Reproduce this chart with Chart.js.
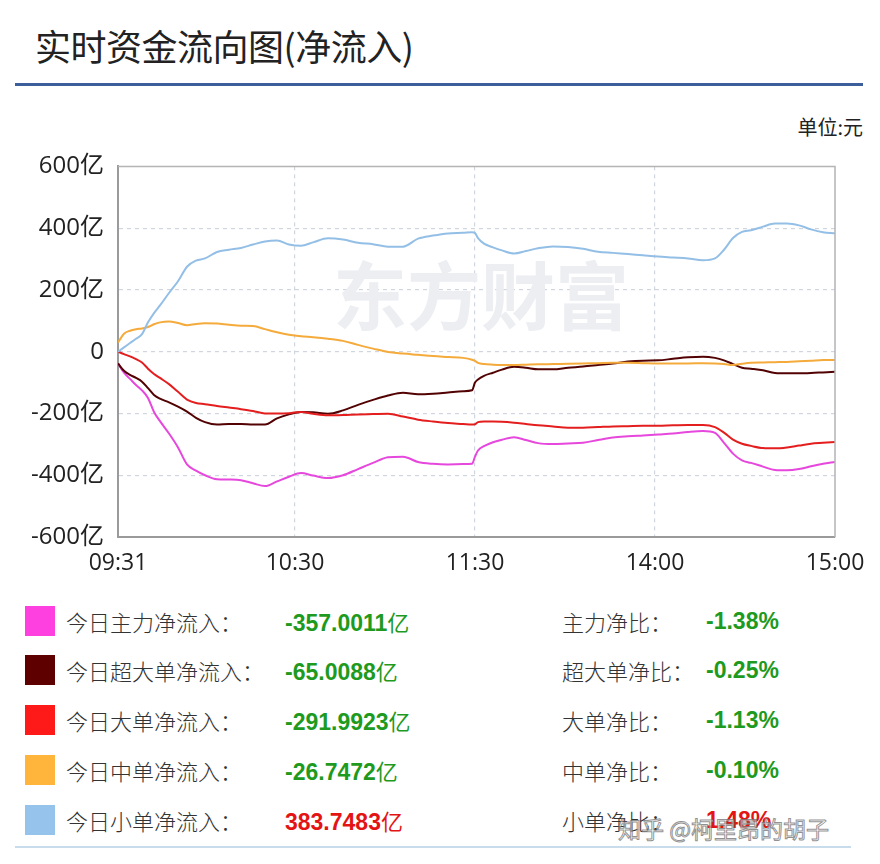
<!DOCTYPE html>
<html>
<head>
<meta charset="utf-8">
<script src="https://cdn.jsdelivr.net/npm/chart.js@4.4.0/dist/chart.umd.min.js"></script>
<style>
  html, body { margin: 0; padding: 0; background: #fff; }
  body { width: 880px; height: 864px; position: relative; overflow: hidden; font-family: "Noto Sans CJK SC", "Noto Sans", sans-serif; }
  #title { position: absolute; left: 35px; top: 19px; font-size: 36px; color: #222; letter-spacing: -0.5px; }
  #rule { position: absolute; left: 15px; top: 83px; width: 848px; height: 3px; background: #3c5f9c; }
  #unit { position: absolute; right: 17px; top: 112px; font-size: 20px; color: #222; }
  #wrap { position: absolute; left: 0; top: 138px; width: 880px; height: 452px; }
  .sw { position: absolute; left: 25px; width: 30px; height: 30px; }
  .lab { position: absolute; font-size: 22px; color: #333; white-space: nowrap; line-height: 30px; font-weight: 300; }
  .val { position: absolute; font-family: "Liberation Sans", Arial, sans-serif; font-weight: bold; font-size: 23px; line-height: 30px; white-space: nowrap; }
  .val .yi { font-family: "Noto Sans CJK SC", sans-serif; font-weight: normal; font-size: 22px; }
  #bottomRule { position: absolute; left: 15px; top: 846px; width: 836px; height: 2px; background: #c9dcec; }
  #zhihu { position: absolute; left: 618px; top: 811px; font-size: 23px; color: rgba(255,255,255,0.55); -webkit-text-stroke: 1px rgba(110,110,110,0.75); white-space: nowrap; }
</style>
</head>
<body>
<div id="title">实时资金流向图(净流入)</div>
<div id="rule"></div>
<div id="unit">单位:元</div>
<div id="wrap"><canvas id="c" width="880" height="452"></canvas></div>
<div id="legend"></div>
<div id="bottomRule"></div>
<div id="zhihu">知乎 @柯里昂的胡子</div>
<script>
// ---- data (values in 亿元), x = trading-minute index (0 = 09:31, 119 = 11:30, 120 = 13:01, 239 = 15:00)
const minutes = [0,2,4,6,8,10,12,14,17,20,23,26,29,33,37,41,45,49,53,57,61,65,70,75,80,85,90,95,100,105,110,115,118,119,120,122,125,128,132,136,140,145,150,155,160,165,170,175,180,185,190,195,199,202,205,208,211,215,219,223,227,231,235,239];
const mainFlow = [-38,-68,-88,-108,-125,-150,-195,-225,-265,-310,-365,-385,-400,-413,-414,-416,-426,-435,-420,-405,-393,-401,-409,-400,-380,-360,-342,-340,-357,-363,-365,-364,-363,-340,-320,-306,-293,-285,-277,-286,-296,-299,-297,-295,-286,-278,-274,-271,-268,-265,-260,-257,-263,-295,-330,-352,-360,-372,-383,-384,-380,-371,-363,-357];
const superFlow = [-38,-62,-75,-85,-97,-118,-140,-152,-164,-178,-194,-214,-228,-236,-234,-234,-236,-236,-216,-203,-195,-196,-201,-190,-172,-156,-142,-133,-138,-136,-132,-128,-125,-100,-90,-78,-68,-58,-49,-52,-57,-57,-52,-48,-43,-38,-32,-29,-28,-23,-18,-16,-20,-28,-40,-52,-55,-60,-69,-70,-70,-69,-67,-65];
const bigFlow = [0,-8,-15,-24,-35,-55,-72,-85,-105,-130,-155,-166,-170,-176,-181,-186,-192,-200,-200,-199,-195,-201,-206,-205,-203,-202,-201,-210,-220,-226,-231,-234,-236,-235,-228,-226,-226,-227,-230,-234,-238,-242,-246,-246,-244,-242,-241,-240,-240,-238,-237,-237,-244,-262,-285,-298,-305,-312,-313,-310,-304,-298,-295,-292];
const midFlow = [30,58,68,73,75,80,89,95,98,93,86,90,92,91,87,84,83,73,63,55,50,47,42,35,22,10,-1,-6,-10,-14,-17,-20,-26,-30,-36,-40,-42,-43,-43,-42,-41,-40,-39,-38,-37,-36,-36,-37,-38,-38,-38,-37,-38,-40,-43,-39,-36,-35,-34,-33,-31,-29,-27,-26.7];
const smallFlow = [0,14,28,42,57,95,125,150,190,228,275,295,302,323,330,336,347,357,360,347,343,354,367,363,353,348,340,340,366,376,383,385,387,384,368,350,338,328,318,326,335,341,339,333,324,320,316,312,308,305,302,296,302,330,368,388,393,405,415,415,409,396,387,383.7];

const xTickPositions = [0, 59, 119, 179, 239];
const xTickLabels = ['09:31', '10:30', '11:30', '14:00', '15:00'];
const yTickValues = [-600, -400, -200, 0, 200, 400, 600];
const yTickLabels = ['-600亿', '-400亿', '-200亿', '0', '200亿', '400亿', '600亿'];

const seriesNames = ['今日主力净流入', '今日超大单净流入', '今日大单净流入', '今日中单净流入', '今日小单净流入'];
const totals = ['-357.0011', '-65.0088', '-291.9923', '-26.7472', '383.7483'];
const ratioNames = ['主力净比', '超大单净比', '大单净比', '中单净比', '小单净比'];
const ratios = ['-1.38%', '-0.25%', '-1.13%', '-0.10%', '1.48%'];

// ---- styles
const lineColors = ['#e647dc', '#520202', '#e41e1e', '#f5ab3c', '#93bfe6'];
const swatchColors = ['#ff40e0', '#5e0000', '#ff1a1a', '#ffb53c', '#95c3eb'];
const seriesValues = [mainFlow, superFlow, bigFlow, midFlow, smallFlow];

// legend
const legend = document.getElementById('legend');
const rowTops = [606, 655, 705, 755, 805];
seriesNames.forEach((n, i) => {
  const top = rowTops[i];
  const pos = !totals[i].startsWith('-');
  const col = pos ? '#e41414' : '#1e9a1e';
  const rcol = ratios[i].startsWith('-') ? '#1e9a1e' : '#e41414';
  legend.insertAdjacentHTML('beforeend',
    `<div class="sw" style="top:${top}px;background:${swatchColors[i]}"></div>` +
    `<div class="lab" style="left:66px;top:${top}px">${n}：</div>` +
    `<div class="val" style="left:285px;top:${top}px;color:${col}">${totals[i]}<span class="yi">亿</span></div>` +
    `<div class="lab" style="left:562px;top:${top}px">${ratioNames[i]}：</div>` +
    `<div class="val" style="left:706px;top:${top}px;color:${rcol}">${ratios[i]}</div>`);
});

const watermark = {
  id: 'watermark',
  beforeDatasetsDraw(chart) {
    const ctx = chart.ctx;
    ctx.save();
    ctx.fillStyle = '#eceef2';
    ctx.font = 'bold 74px "Noto Sans CJK SC", sans-serif';
    ctx.textBaseline = 'middle';
    ctx.textAlign = 'left';
    ctx.fillText('东方财富', 333, 158);
    ctx.restore();
  },
  afterDraw(chart) {
    const ctx = chart.ctx;
    const a = chart.chartArea;
    ctx.save();
    ctx.strokeStyle = '#b4b4b4';
    ctx.lineWidth = 1.5;
    ctx.beginPath();
    ctx.moveTo(a.left, a.top);
    ctx.lineTo(a.right, a.top);
    ctx.lineTo(a.right, a.bottom);
    ctx.stroke();
    ctx.restore();
  }
};

new Chart(document.getElementById('c'), {
  type: 'line',
  data: {
    datasets: seriesValues.map((vals, i) => ({
      label: seriesNames[i],
      data: vals.map((v, k) => ({ x: minutes[k], y: v })),
      borderColor: lineColors[i],
      borderWidth: 2,
      pointRadius: 0,
      fill: false,
      cubicInterpolationMode: 'monotone'
    })).reverse()
  },
  options: {
    responsive: false,
    animation: false,
    layout: { padding: { top: 4, right: 45, left: 0, bottom: 0 } },
    plugins: { legend: { display: false }, tooltip: { enabled: false } },
    scales: {
      x: {
        type: 'linear',
        min: 0, max: 239,
        afterBuildTicks: (s) => { s.ticks = xTickPositions.map(v => ({ value: v })); },
        afterFit: (s) => { s.height = 53; },
        ticks: {
          autoSkip: false, maxRotation: 0, padding: 13,
          color: '#222',
          font: { size: 23, family: '"Open Sans", "Noto Sans", sans-serif' },
          callback: (v) => { const i = xTickPositions.indexOf(v); return i >= 0 ? xTickLabels[i] : ''; }
        },
        grid: {
          color: (c) => (c.tick && (c.tick.value === 0 || c.tick.value === 239)) ? 'rgba(0,0,0,0)' : '#cfd6e0',
          lineWidth: 1.2, drawTicks: false
        },
        border: { display: true, color: '#9a9a9a', width: 2, dash: [4, 4] }
      },
      y: {
        min: -600, max: 600,
        afterBuildTicks: (s) => { s.ticks = yTickValues.map(v => ({ value: v })); },
        afterFit: (s) => { s.width = 118; },
        ticks: {
          padding: 14,
          color: '#222',
          font: { size: 24, family: '"Open Sans", "Noto Sans CJK SC", sans-serif' },
          callback: (v) => { const i = yTickValues.indexOf(v); return i >= 0 ? yTickLabels[i] : ''; }
        },
        grid: {
          color: (c) => (c.tick && (c.tick.value === 600 || c.tick.value === -600)) ? 'rgba(0,0,0,0)' : '#cfd6e0',
          lineWidth: 1.2, drawTicks: false
        },
        border: { display: true, color: '#9a9a9a', width: 2, dash: [4, 4] }
      }
    }
  },
  plugins: [watermark]
});
</script>
</body>
</html>
